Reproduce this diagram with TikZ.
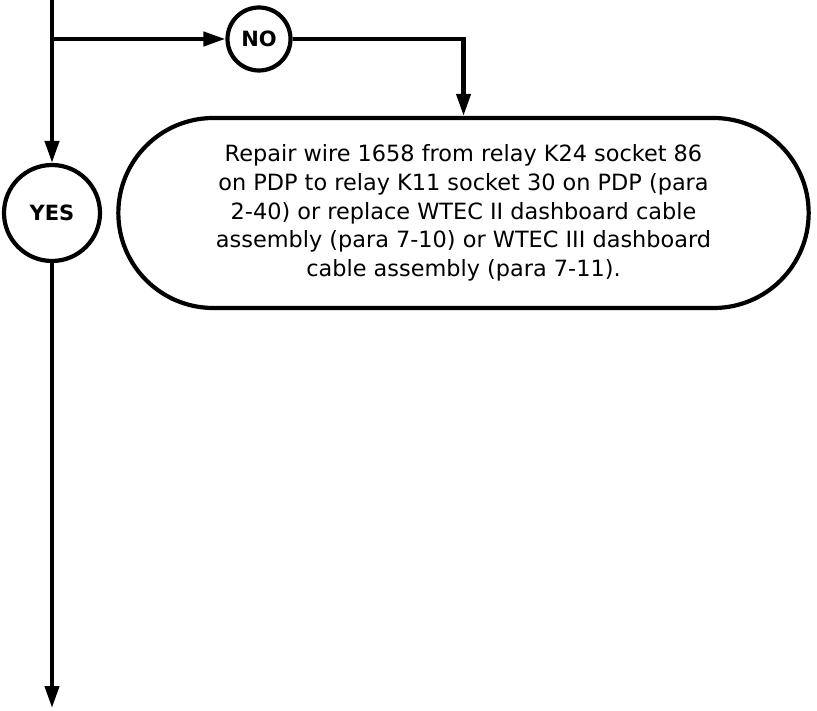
\documentclass[tikz,border=0pt]{standalone}
\usepackage{fontspec}
\setmainfont{DejaVu Sans}
\usetikzlibrary{arrows.meta,shapes.misc,positioning}

\begin{document}
\begin{tikzpicture}[x=1pt, y=-1pt, >={Triangle[length=22pt, width=14pt]},
  line width=4.2pt,
  answer/.style={draw, circle, inner sep=0pt, font=\fontsize{21}{23}\selectfont\bfseries},
  action/.style={draw, rounded rectangle, minimum width=697pt, minimum height=190pt,
    align=center, font=\fontsize{22.4}{28.6}\selectfont}]
  \useasboundingbox (0,0) rectangle (817,711);

  % Branch points
  \coordinate (top) at (52,-2);
  \coordinate (split) at (52,39);
  \coordinate (bottom) at (52,708);

  % Answers
  \node[answer, minimum size=63pt] (no) at (259,39) {NO};
  \node[answer, minimum size=96pt] (yes) at (52,213) {YES};

  % Repair step
  \node[action] (repair) at (463.5,213) {Repair wire 1658 from relay K24 socket 86\\
    on PDP to relay K11 socket 30 on PDP (para\\
    2-40) or replace WTEC II dashboard cable\\
    assembly (para 7-10) or WTEC III dashboard\\
    cable assembly (para 7-11).};

  % Flow lines
  \draw[->] (top) -- (yes);
  \draw[->] (split) -- (no);
  \draw[->] (no) -| (repair);
  \draw[->] (yes) -- (bottom);
\end{tikzpicture}
\end{document}
